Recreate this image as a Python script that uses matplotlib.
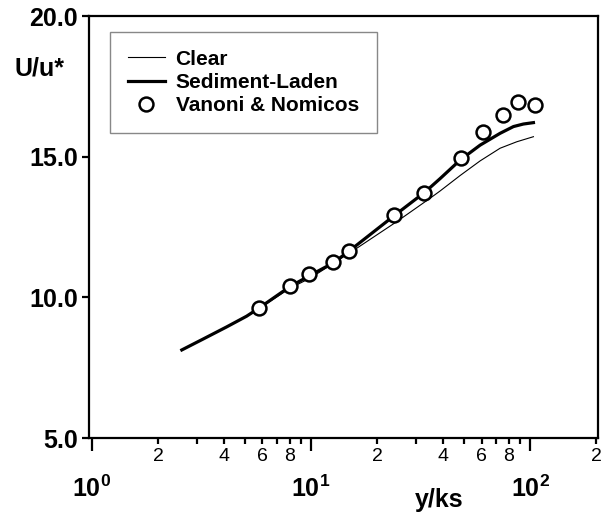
import numpy as np
import matplotlib
matplotlib.use("Agg")
import matplotlib.pyplot as plt
from matplotlib.ticker import FixedLocator, FixedFormatter

plt.rcParams['font.family'] = ['Liberation Sans', 'DejaVu Sans']
plt.rcParams['mathtext.fontset'] = 'custom'
plt.rcParams['mathtext.rm'] = 'Liberation Sans:bold'
plt.rcParams['mathtext.bf'] = 'Liberation Sans:bold'

# Data
clear_x = [2.57, 3.22, 4.12, 5.08, 5.79, 8.0, 10.0, 16.2, 24.6, 34.9, 38.8, 47.9, 59.1, 72.9, 86.9, 103.5]
clear_y = [8.13, 8.52, 8.95, 9.33, 9.60, 10.32, 10.70, 11.75, 12.69, 13.52, 13.78, 14.33, 14.85, 15.30, 15.53, 15.71]

sed_x = [2.57, 3.22, 4.12, 5.08, 5.79, 8.0, 10.0, 12.6, 15.0, 24.2, 33.2, 38.8, 47.9, 59.1, 72.9, 83.9, 93.1, 103.5]
sed_y = [8.13, 8.52, 8.95, 9.33, 9.62, 10.38, 10.80, 11.22, 11.66, 12.93, 13.75, 14.22, 14.88, 15.41, 15.83, 16.07, 16.16, 16.21]

vn_x = [5.79, 8.02, 9.79, 12.6, 14.96, 23.9, 32.9, 48.4, 61.2, 75.5, 88.4, 105.4]
vn_y = [9.62, 10.40, 10.83, 11.24, 11.66, 12.93, 13.72, 14.95, 15.89, 16.48, 16.95, 16.84]

y_ticks = [5.0, 10.0, 15.0, 20.0]
y_tick_labels = ['5.0', '10.0', '15.0', '20.0']
major_x = [1, 10, 100]
major_x_labels = [r'$\mathbf{10^{0}}$', r'$\mathbf{10^{1}}$', r'$\mathbf{10^{2}}$']
minor_x = [2, 3, 4, 5, 6, 7, 8, 9, 20, 30, 40, 50, 60, 70, 80, 90, 200]
minor_x_labels = ['2', '', '4', '', '6', '', '8', '', '2', '', '4', '', '6', '', '8', '', '2']

fig = plt.figure(figsize=(6.09, 5.17), dpi=100)
ax = fig.add_axes([89/609, 1-438/517, (598-89)/609, (438-16)/517])

ax.plot(clear_x, clear_y, color='black', lw=0.8, label='Clear',
        solid_joinstyle='round')
ax.plot(sed_x, sed_y, color='black', lw=2.3, label='Sediment-Laden',
        solid_joinstyle='round')
ax.plot(vn_x, vn_y, linestyle='none', marker='o', markersize=10,
        markerfacecolor='white', markeredgecolor='black', markeredgewidth=1.8,
        label='Vanoni & Nomicos')

ax.set_xscale('log')
ax.set_xlim(0.969, 204)
ax.set_ylim(5.0, 20.0)

ax.xaxis.set_major_locator(FixedLocator(major_x))
ax.xaxis.set_major_formatter(FixedFormatter(major_x_labels))
ax.xaxis.set_minor_locator(FixedLocator(minor_x))
ax.xaxis.set_minor_formatter(FixedFormatter(minor_x_labels))
ax.yaxis.set_major_locator(FixedLocator(y_ticks))
ax.yaxis.set_major_formatter(FixedFormatter(y_tick_labels))

for s in ax.spines.values():
    s.set_linewidth(1.6)

ax.tick_params(axis='y', which='major', direction='out', length=5, width=1.6,
               pad=3, labelsize=18)
ax.tick_params(axis='x', which='major', direction='out', length=9, width=1.6,
               pad=18, labelsize=18)
ax.tick_params(axis='x', which='minor', direction='out', length=4.5, width=1.6,
               pad=3, labelsize=14)
for lab in ax.get_yticklabels():
    lab.set_fontweight('bold')

fig.text(40/609, 1-68/517, 'U/u*', fontsize=18, fontweight='bold',
         ha='center', va='center')
fig.text(439/609, 1-500/517, 'y/ks', fontsize=18, fontweight='bold',
         ha='center', va='center')

leg = ax.legend(loc='upper left', bbox_to_anchor=((110-89)/509, (438-32)/422),
                frameon=True, fancybox=False, framealpha=1, edgecolor='#888888',
                prop={'weight': 'bold', 'size': 15}, handlelength=1.8,
                handletextpad=0.5, labelspacing=0.2, borderpad=0.85,
                borderaxespad=0)
leg.get_frame().set_linewidth(1.0)

fig.savefig('out.png', dpi=100)
